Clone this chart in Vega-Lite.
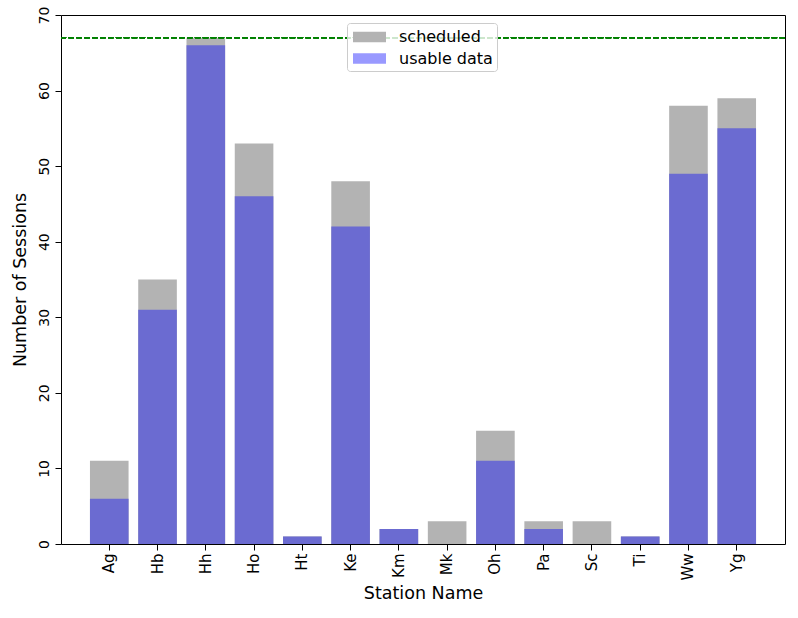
{
  "$schema": "https://vega.github.io/schema/vega-lite/v6.json",
  "width": 724,
  "height": 529,
  "autosize": {"type": "none"},
  "padding": {"left": 61, "top": 15, "right": 13, "bottom": 74},
  "background": "white",
  "config": {
    "font": "DejaVu Sans",
    "view": {"stroke": "black", "strokeWidth": 1},
    "axis": {
      "grid": false,
      "domainColor": "black",
      "tickColor": "black",
      "labelColor": "black",
      "titleColor": "black",
      "labelFont": "DejaVu Sans",
      "titleFont": "DejaVu Sans",
      "labelFontSize": 14,
      "titleFontSize": 17.5,
      "titleFontWeight": "normal"
    }
  },
  "data": {
    "values": [
      {"station": "Ag", "scheduled": 11, "usable": 6},
      {"station": "Hb", "scheduled": 35, "usable": 31},
      {"station": "Hh", "scheduled": 67, "usable": 66},
      {"station": "Ho", "scheduled": 53, "usable": 46},
      {"station": "Ht", "scheduled": 1, "usable": 1},
      {"station": "Ke", "scheduled": 48, "usable": 42},
      {"station": "Km", "scheduled": 2, "usable": 2},
      {"station": "Mk", "scheduled": 3, "usable": 0},
      {"station": "Oh", "scheduled": 15, "usable": 11},
      {"station": "Pa", "scheduled": 3, "usable": 2},
      {"station": "Sc", "scheduled": 3, "usable": 0},
      {"station": "Ti", "scheduled": 1, "usable": 1},
      {"station": "Ww", "scheduled": 58, "usable": 49},
      {"station": "Yg", "scheduled": 59, "usable": 55}
    ]
  },
  "layer": [
    {
      "mark": {"type": "bar"},
      "encoding": {
        "x": {
          "field": "station",
          "type": "nominal",
          "sort": null,
          "scale": {"paddingInner": 0.2, "paddingOuter": 0.6},
          "axis": {"title": "Station Name", "labelAngle": -90, "labelFontSize": 15, "ticks": true, "tickSize": 6, "labelPadding": 3, "titlePadding": 4, "domain": false}
        },
        "y": {
          "field": "scheduled",
          "type": "quantitative",
          "scale": {"domain": [0, 70], "nice": false},
          "axis": {"title": "Number of Sessions", "values": [0, 10, 20, 30, 40, 50, 60, 70], "labelAngle": -90, "labelAlign": "center", "labelBaseline": "bottom", "tickSize": 6, "labelPadding": 4, "titlePadding": 8, "domain": false}
        },
        "color": {
          "datum": "scheduled",
          "scale": {"domain": ["scheduled", "usable data"], "range": ["#b3b3b3", "#9999ff"]},
          "legend": {
            "orient": "none",
            "legendX": 286,
            "legendY": 8,
            "title": null,
            "symbolType": "M-1.65,-0.52H1.65V0.52H-1.65Z",
            "symbolSize": 400,
            "symbolStrokeWidth": 0,
            "symbolOpacity": 1,
            "symbolOffset": 8.5,
            "labelOffset": 19.5,
            "labelFontSize": 16,
            "labelFont": "DejaVu Sans",
            "labelColor": "black",
            "strokeColor": "#cccccc",
            "fillColor": "rgba(255,255,255,0.8)",
            "cornerRadius": 3,
            "padding": 4,
            "rowPadding": 3.5
          }
        }
      }
    },
    {
      "mark": {"type": "bar", "color": "#6b6bd1"},
      "encoding": {
        "x": {"field": "station", "type": "nominal", "sort": null},
        "y": {"field": "usable", "type": "quantitative"}
      }
    },
    {
      "mark": {"type": "rule", "color": "green", "strokeDash": [5.5, 2.4], "strokeWidth": 1.2},
      "encoding": {"y": {"datum": 67}}
    }
  ]
}
